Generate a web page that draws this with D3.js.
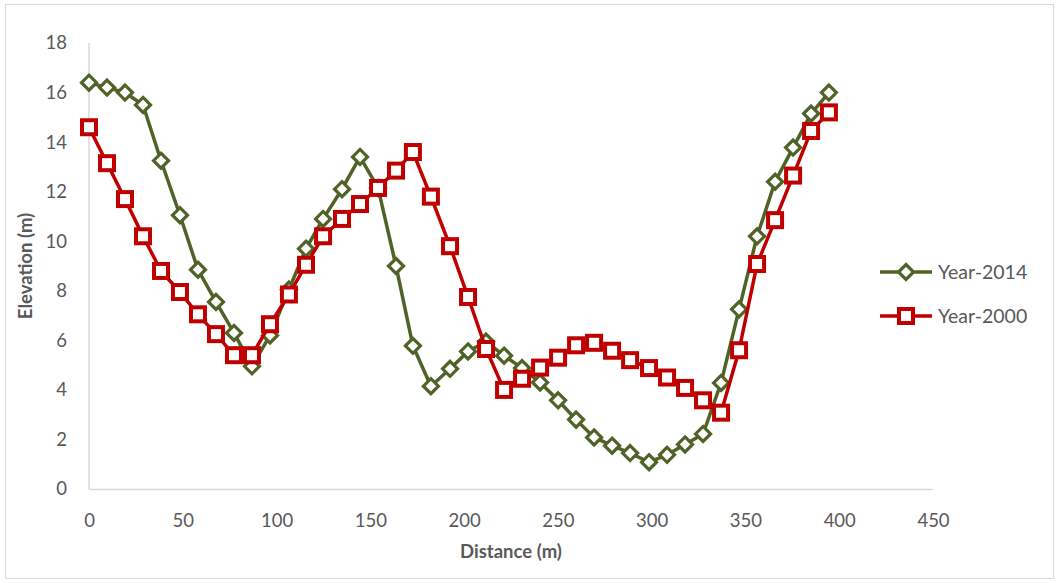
<!DOCTYPE html>
<html><head><meta charset="utf-8">
<script src="https://cdn.jsdelivr.net/npm/d3@7"></script>
<style>html,body{margin:0;padding:0;background:#fff;}svg{display:block;font-family:Lato,"Open Sans",sans-serif;}</style>
</head><body>
<svg id="chart" width="1059" height="583"></svg>
<script>
const distances = [0, 9.6, 19.2, 28.8, 38.4, 48.5, 58.1, 67.7, 77.3, 86.9, 96.5, 106.6, 115.7, 124.8, 134.9, 144.5, 154.1, 163.7, 172.7, 182.3, 192.5, 202.1, 211.7, 221.3, 230.9, 240.5, 250.1, 259.7, 269.3, 278.9, 288.5, 298.6, 308.2, 317.8, 327.4, 337.0, 346.6, 356.2, 365.8, 375.4, 385.0, 394.5];
const year2014 = [16.4, 16.2, 16.0, 15.5, 13.25, 11.05, 8.85, 7.55, 6.3, 4.95, 6.2, 8.05, 9.7, 10.9, 12.1, 13.4, 12.15, 9.0, 5.78, 4.15, 4.85, 5.55, 5.95, 5.38, 4.88, 4.3, 3.58, 2.8, 2.08, 1.75, 1.45, 1.08, 1.38, 1.8, 2.22, 4.28, 7.25, 10.2, 12.4, 13.78, 15.15, 16.0];
const year2000 = [14.6, 13.15, 11.7, 10.2, 8.8, 7.95, 7.05, 6.25, 5.4, 5.4, 6.65, 7.85, 9.05, 10.2, 10.9, 11.5, 12.15, 12.85, 13.6, 11.8, 9.8, 7.75, 5.65, 4.0, 4.45, 4.9, 5.3, 5.8, 5.9, 5.58, 5.2, 4.88, 4.5, 4.08, 3.58, 3.08, 5.6, 9.08, 10.85, 12.65, 14.45, 15.2];
const xTicks = [0, 50, 100, 150, 200, 250, 300, 350, 400, 450];
const yTicks = [0, 2, 4, 6, 8, 10, 12, 14, 16, 18];
const seriesNames = ["Year-2014", "Year-2000"];
const seriesColors = ["#4f6228", "#c00000"];

const svg = d3.select("#chart");
svg.append("rect").attr("x", 5.5).attr("y", 4.5).attr("width", 1048).attr("height", 574)
  .attr("fill", "#fff").attr("stroke", "#d9d9d9").attr("stroke-width", 1);

const x = d3.scaleLinear().domain([0, 450]).range([89, 933]);
const y = d3.scaleLinear().domain([0, 18]).range([489, 43]);

svg.append("line").attr("x1", x(0)).attr("x2", x(450)).attr("y1", y(0)+0.5).attr("y2", y(0)+0.5)
  .attr("stroke", "#d9d9d9").attr("stroke-width", 1.5);
svg.append("line").attr("x1", x(0)).attr("x2", x(0)).attr("y1", y(18)).attr("y2", y(0))
  .attr("stroke", "#d9d9d9").attr("stroke-width", 1.5);

const xAxis = svg.append("g").attr("transform", `translate(0,${y(0)})`)
  .call(d3.axisBottom(x).tickValues(xTicks).tickSize(0).tickPadding(25));
xAxis.select(".domain").remove();
xAxis.selectAll("text").attr("font-size", 18.5).attr("fill", "#595959").attr("font-family", "Lato,'Open Sans',sans-serif");

const yAxis = svg.append("g").attr("transform", `translate(${x(0)},0)`)
  .call(d3.axisLeft(y).tickValues(yTicks).tickSize(0).tickPadding(22));
yAxis.select(".domain").remove();
yAxis.selectAll("text").attr("font-size", 18.5).attr("fill", "#595959").attr("font-family", "Lato,'Open Sans',sans-serif");

svg.append("text").attr("x", 511).attr("y", 558).attr("text-anchor", "middle")
  .attr("font-size", 18.5).attr("font-weight", "bold").attr("fill", "#595959").text("Distance (m)");
svg.append("text").attr("transform", "translate(32,266) rotate(-90)").attr("text-anchor", "middle")
  .attr("font-size", 18.5).attr("font-weight", "bold").attr("fill", "#595959").text("Elevation (m)");

const line = d3.line().x(d => x(d[0])).y(d => y(d[1]));
const d2014 = distances.map((d, i) => [d, year2014[i]]);
const d2000 = distances.map((d, i) => [d, year2000[i]]);

function drawDiamond(g, cx, cy, color) {
  const r = 7.5;
  g.append("path").attr("d", `M${cx},${cy-r}L${cx+r},${cy}L${cx},${cy+r}L${cx-r},${cy}Z`)
    .attr("fill", "#fff").attr("stroke", color).attr("stroke-width", 3.2);
}
function drawSquare(g, cx, cy, color) {
  const s = 14;
  g.append("rect").attr("x", cx - s/2).attr("y", cy - s/2).attr("width", s).attr("height", s)
    .attr("fill", "#fff").attr("stroke", color).attr("stroke-width", 4);
}

const g14 = svg.append("g");
g14.append("path").datum(d2014).attr("d", line).attr("fill", "none")
  .attr("stroke", seriesColors[0]).attr("stroke-width", 3.5).attr("stroke-linejoin", "round");
d2014.forEach(d => drawDiamond(g14, x(d[0]), y(d[1]), seriesColors[0]));

const g00 = svg.append("g");
g00.append("path").datum(d2000).attr("d", line).attr("fill", "none")
  .attr("stroke", seriesColors[1]).attr("stroke-width", 3.5).attr("stroke-linejoin", "round");
d2000.forEach(d => drawSquare(g00, x(d[0]), y(d[1]), seriesColors[1]));

const legY = [272, 316];
seriesNames.forEach((name, i) => {
  const lg = svg.append("g");
  lg.append("line").attr("x1", 880).attr("x2", 932).attr("y1", legY[i]).attr("y2", legY[i])
    .attr("stroke", seriesColors[i]).attr("stroke-width", 3.5);
  if (i === 0) drawDiamond(lg, 906, legY[i], seriesColors[i]);
  else drawSquare(lg, 906, legY[i], seriesColors[i]);
  lg.append("text").attr("x", 938).attr("y", legY[i] + 7).attr("font-size", 19.5)
    .attr("fill", "#595959").text(name);
});
</script>
</body></html>
